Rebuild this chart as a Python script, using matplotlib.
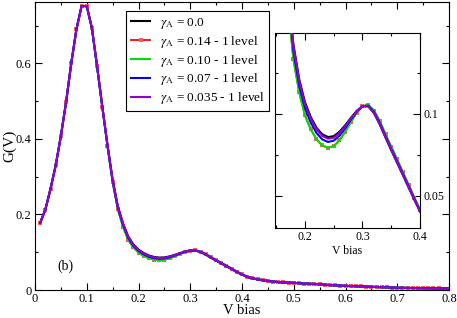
import numpy as np
import matplotlib
matplotlib.use("Agg")
import matplotlib.pyplot as plt
from matplotlib.ticker import MultipleLocator, FuncFormatter

plt.rcParams['font.family'] = ['Liberation Serif', 'DejaVu Serif']
plt.rcParams['mathtext.fontset'] = 'stix'

# bias grid 0.01 .. 0.80
v_bias = [round(0.01 * k, 2) for k in range(1, 81)]

# parts shared by every curve (0.01-0.13 and 0.46-0.80)
g_head = [0.178, 0.213, 0.268, 0.330, 0.408, 0.497, 0.600, 0.690, 0.752, 0.752,
          0.693, 0.592, 0.486]
g_tail = [0.0225, 0.021, 0.020, 0.0195, 0.019, 0.018, 0.017, 0.0165, 0.016, 0.015,
          0.014, 0.013, 0.0125, 0.0115, 0.011, 0.0105, 0.010, 0.0095, 0.009, 0.0085,
          0.008, 0.0075, 0.007, 0.0065, 0.006, 0.0058, 0.0055, 0.0052, 0.005, 0.0048,
          0.0046, 0.0044, 0.0042, 0.004, 0.004]

# 0.14-0.45, where the curves split
mid_00 = [0.385, 0.292, 0.222, 0.177, 0.142, 0.121, 0.107, 0.098, 0.0915, 0.0875,
          0.0858, 0.0863, 0.0890, 0.0930, 0.0975, 0.1017, 0.1045, 0.1044, 0.1004, 0.0935,
          0.0855, 0.0778, 0.0703, 0.0628, 0.0553, 0.0478, 0.0405, 0.0350, 0.0310, 0.0280,
          0.0258, 0.0240]
mid_014 = [0.381, 0.286, 0.214, 0.168, 0.133, 0.113, 0.099, 0.0905, 0.0845, 0.0807,
           0.0793, 0.0803, 0.0838, 0.0890, 0.0950, 0.1007, 0.1045, 0.1054, 0.1019, 0.0955,
           0.0875, 0.0798, 0.0723, 0.0646, 0.0568, 0.0490, 0.0415, 0.0357, 0.0315, 0.0284,
           0.0261, 0.0242]
mid_010 = mid_014
mid_007 = [0.383, 0.289, 0.218, 0.173, 0.138, 0.117, 0.1035, 0.0946, 0.0883, 0.0844,
           0.0828, 0.0836, 0.0866, 0.0912, 0.0964, 0.1012, 0.1045, 0.1049, 0.1011, 0.0944,
           0.0864, 0.0787, 0.0712, 0.0636, 0.0560, 0.0484, 0.0410, 0.0353, 0.0312, 0.0282,
           0.0259, 0.0241]
mid_0035 = [0.384, 0.291, 0.221, 0.176, 0.141, 0.120, 0.1058, 0.0969, 0.0905, 0.0865,
            0.0848, 0.0854, 0.0882, 0.0924, 0.0971, 0.1015, 0.1045, 0.1046, 0.1006, 0.0938,
            0.0858, 0.0781, 0.0706, 0.0631, 0.0555, 0.0480, 0.0407, 0.0351, 0.0311, 0.0281,
            0.0258, 0.0240]

labels = [r'$\gamma_{\rm A}$ = 0.0',
          r'$\gamma_{\rm A}$ = 0.14 - 1 level',
          r'$\gamma_{\rm A}$ = 0.10 - 1 level',
          r'$\gamma_{\rm A}$ = 0.07 - 1 level',
          r'$\gamma_{\rm A}$ = 0.035 - 1 level']
colors = ['black', '#ff0000', '#00e000', '#0000ff', '#9400d3']
mids = [mid_00, mid_014, mid_010, mid_007, mid_0035]


def style_ticks(ax, size):
    ax.tick_params(which='both', direction='in', top=True, right=True, labelsize=size,
                   width=0.8, pad=2.5)
    ax.tick_params(which='major', length=5)
    ax.tick_params(which='minor', length=2.5)


def draw_curves(a, with_labels):
    for lab, col, mid in zip(labels, colors, mids):
        g = g_head + mid + g_tail
        lab = lab if with_labels else None
        if col == '#ff0000':
            a.plot(v_bias, g, color=col, lw=1.3, marker='s', ms=2.6, mew=0,
                   mfc='#ff5a5a', label=lab, zorder=2)
        else:
            a.plot(v_bias, g, color=col, lw=1.5, label=lab, zorder=3)


fig = plt.figure(figsize=(4.57, 3.18), dpi=100)
ax = fig.add_axes([0.0766, 0.088, 0.9059, 0.906])
draw_curves(ax, True)

ax.set_xlim(0, 0.8)
ax.set_ylim(0, 0.763)
ax.xaxis.set_major_locator(MultipleLocator(0.1))
ax.xaxis.set_minor_locator(MultipleLocator(0.05))
ax.yaxis.set_major_locator(MultipleLocator(0.2))
ax.yaxis.set_minor_locator(MultipleLocator(0.1))
fmt = FuncFormatter(lambda x, p: '%g' % round(x, 3))
ax.xaxis.set_major_formatter(fmt)
ax.yaxis.set_major_formatter(fmt)
style_ticks(ax, 9)
ax.set_xlabel('V bias', fontsize=10.5)
ax.xaxis.set_label_coords(0.5, -0.05)
ax.set_ylabel('G(V)', fontsize=11)
ax.yaxis.set_label_coords(-0.045, 0.5)
ax.text(0.044, 0.064, '(b)', fontsize=10, va='center')

leg = ax.legend(loc='upper left', bbox_to_anchor=(0.22, 0.968), fontsize=9.5,
                frameon=True, fancybox=False, edgecolor='black', framealpha=1,
                handlelength=1.5, handletextpad=0.7, labelspacing=0.22,
                borderpad=0.35, borderaxespad=0)
leg.get_frame().set_linewidth(0.8)

# inset
ins = fig.add_axes([0.6018, 0.283, 0.3173, 0.613])
draw_curves(ins, False)
ins.set_xlim(0.148, 0.4)
ins.set_ylim(0.0305, 0.149)
ins.xaxis.set_major_locator(MultipleLocator(0.1))
ins.xaxis.set_minor_locator(MultipleLocator(0.05))
ins.yaxis.set_major_locator(MultipleLocator(0.05))
ins.yaxis.set_minor_locator(MultipleLocator(0.025))
ins.xaxis.set_major_formatter(fmt)
ins.yaxis.set_major_formatter(fmt)
style_ticks(ins, 8.5)
ins.tick_params(axis='y', labelleft=False, labelright=True)
ins.set_xlabel('V bias', fontsize=8.5, labelpad=1)

fig.savefig('out.png', dpi=100)
